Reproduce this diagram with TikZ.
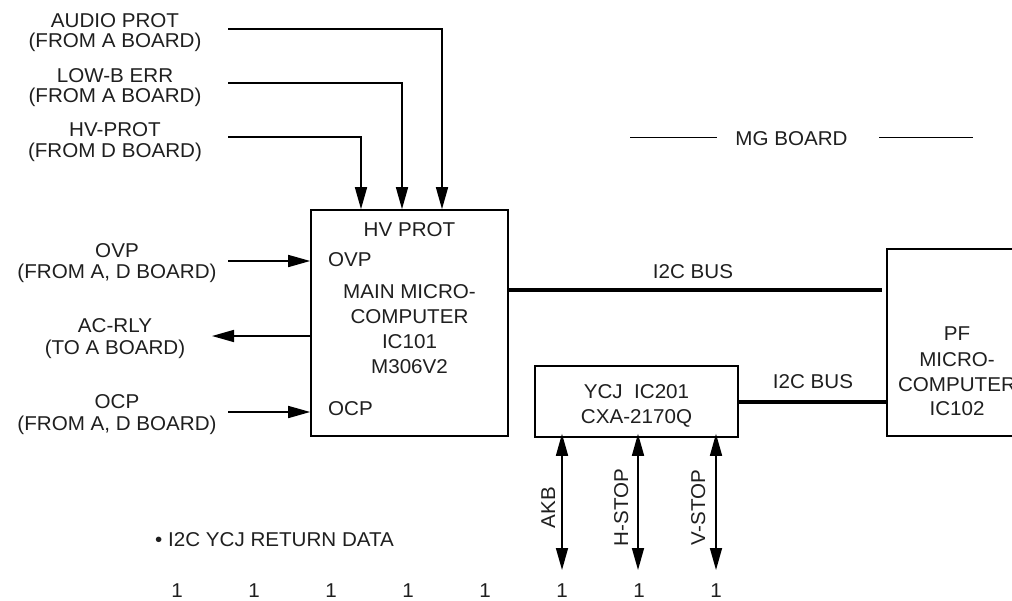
\documentclass[tikz,border=0pt]{standalone}
\usepackage{fontspec}
\setmainfont{Liberation Sans}[FakeStretch=1.03]
\usetikzlibrary{arrows.meta}
\tikzset{
  lbl/.style={anchor=base, inner sep=0pt, font=\fontsize{20}{20}\selectfont, text=black!88},
  lblw/.style={lbl, anchor=base west},
  box/.style={draw, line width=1.6pt, inner sep=0pt, minimum width=#1},
  thin/.style={line width=1.6pt},
  bus/.style={line width=3.4pt},
  arr/.style={thin, -{Triangle[length=22pt,width=12pt]}},
  dbl/.style={thin, {Triangle[length=22pt,width=12pt]}-{Triangle[length=22pt,width=12pt]}}
}
\begin{document}
\begin{tikzpicture}[x=1pt,y=-1pt]
\clip (0,0) rectangle (1012,600);
\fill[white] (0,0) rectangle (1012,600);

% boxes
\node[box=197pt, minimum height=226pt] (main) at (409.5,323) {};
\node[box=140pt, minimum height=187pt] (pf) at (957,342.5) {};
\node[box=203pt, minimum height=71pt] (ycj) at (636.5,401.5) {};

% top-left labels
\node[lbl] (audio1) at (115,27) {AUDIO PROT};
\node[lbl] (audio2) at (115,47) {(FROM A BOARD)};
\node[lbl] (lowb1) at (115,82) {LOW-B ERR};
\node[lbl] (lowb2) at (115,102) {(FROM A BOARD)};
\node[lbl] (hv1) at (115,136) {HV-PROT};
\node[lbl] (hv2) at (115,157) {(FROM D BOARD)};

% left labels
\node[lbl] (ovp1) at (117,257) {OVP};
\node[lbl] (ovp2) at (117,278) {(FROM A, D BOARD)};
\node[lbl] (ac1) at (115,332) {AC-RLY};
\node[lbl] (ac2) at (115,354) {(TO A BOARD)};
\node[lbl] (ocp1) at (117,408) {OCP};
\node[lbl] (ocp2) at (117,430) {(FROM A, D BOARD)};

% main box texts
\node[lbl] (m1) at (409.5,236) {HV PROT};
\node[lblw] (m2) at (328,266) {OVP};
\node[lbl] (m3) at (409.5,298) {MAIN MICRO-};
\node[lbl] (m4) at (409.5,323) {COMPUTER};
\node[lbl] (m5) at (409.5,348) {IC101};
\node[lbl] (m6) at (409.5,373) {M306V2};
\node[lblw] (m7) at (328,415) {OCP};

% PF box texts
\node[lbl] (p1) at (957,340) {PF};
\node[lbl] (p2) at (957,366) {MICRO-};
\node[lbl] (p3) at (957,391) {COMPUTER};
\node[lbl] (p4) at (957,415) {IC102};

% YCJ box texts
\node[lbl] (y1) at (636.5,398) {YCJ\ \ IC201};
\node[lbl] (y2) at (636.5,423) {CXA-2170Q};

% bus labels
\node[lbl] (bus1) at (693,278) {I2C BUS};
\node[lbl] (bus2) at (813,388) {I2C BUS};

% MG board
\node[lbl] (mg) at (791.5,145) {MG BOARD};
\coordinate (mgL) at (630,137.5);
\coordinate (mgLe) at (717,137.5);
\coordinate (mgRs) at (879,137.5);
\coordinate (mgR) at (973,137.5);
\draw[thin] (mgL) -- (mgLe);
\draw[thin] (mgRs) -- (mgR);

% top input connectors
\coordinate (aS) at (228,29);
\coordinate (aX) at (442,0);
\coordinate (lS) at (228,83);
\coordinate (lX) at (402,0);
\coordinate (hS) at (228,137);
\coordinate (hX) at (361,0);
\draw[arr] (aS) -| (main.north -| aX);
\draw[arr] (lS) -| (main.north -| lX);
\draw[arr] (hS) -| (main.north -| hX);

% left connectors
\coordinate (ovpS) at (228,261);
\coordinate (acE) at (212,336);
\coordinate (ocpS) at (228,412);
\draw[arr] (ovpS) -- (main.west |- ovpS);
\draw[arr] (main.west |- acE) -- (acE);
\draw[arr] (ocpS) -- (main.west |- ocpS);

% buses
\coordinate (bus1Y) at (0,290);
\coordinate (bus2Y) at (0,402);
\draw[bus] (main.east |- bus1Y) -- ([xshift=-4pt]pf.west |- bus1Y);
\draw[bus] (ycj.east |- bus2Y) -- (pf.west |- bus2Y);

% bottom bidirectional arrows
\coordinate (akbB) at (562,570);
\coordinate (hsB) at (638,570);
\coordinate (vsB) at (716,570);
\draw[dbl] (akbB) -- ([yshift=4pt]ycj.south -| akbB);
\draw[dbl] (hsB) -- ([yshift=4pt]ycj.south -| hsB);
\draw[dbl] (vsB) -- ([yshift=4pt]ycj.south -| vsB);
\node[lbl, rotate=90] (akb) at (555,507.5) {AKB};
\node[lbl, rotate=90] (hstop) at (628,507.5) {H-STOP};
\node[lbl, rotate=90] (vstop) at (705,507.5) {V-STOP};

% return data
\node[lblw] (ret) at (155,546) {• I2C YCJ RETURN DATA};
\foreach \i/\x in {1/177,2/254,3/331,4/408,5/485,6/562,7/639,8/716}{
  \node[lbl] (d\i) at (\x,597) {1};
}
\end{tikzpicture}
\end{document}
